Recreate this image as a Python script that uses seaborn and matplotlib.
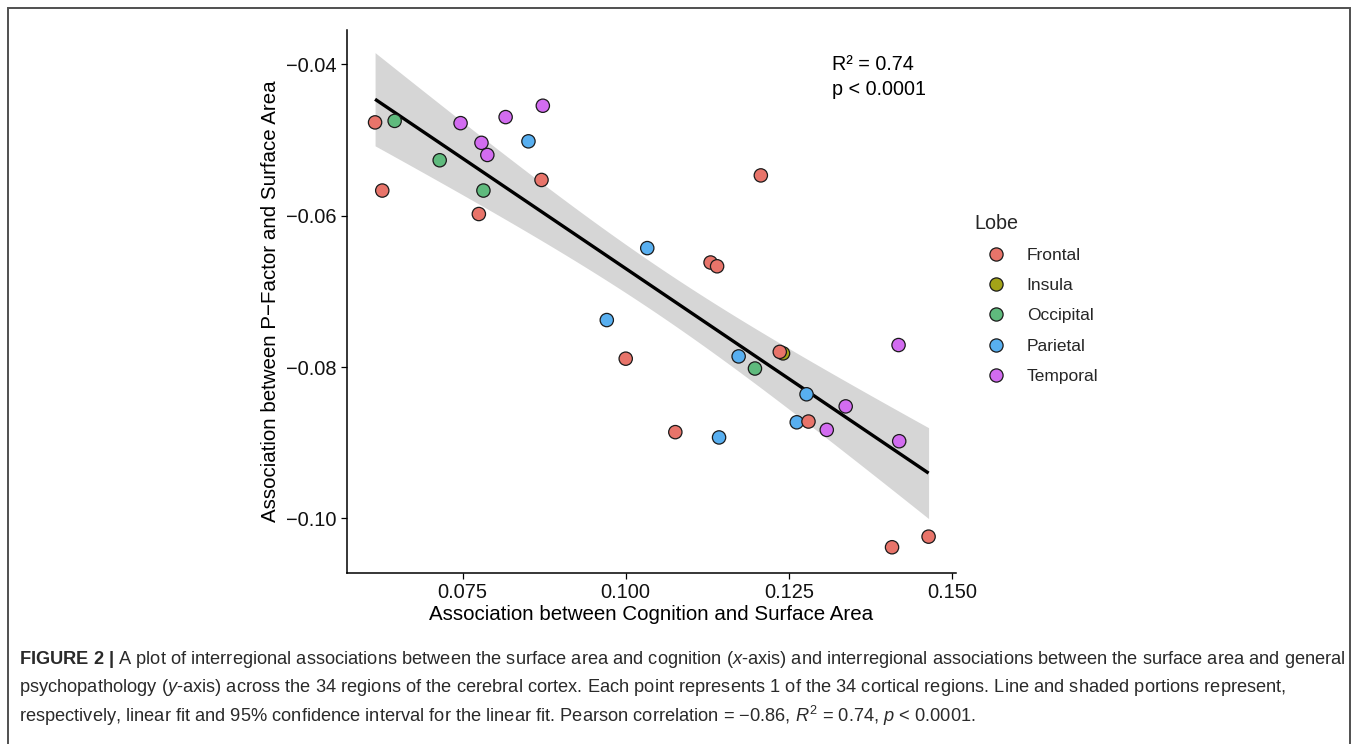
import numpy as np
import pandas as pd
import matplotlib
matplotlib.use("Agg")
import matplotlib.pyplot as plt
import seaborn as sns
from matplotlib.patches import Rectangle

# ---------------- data ----------------
lobe = ["Frontal", "Occipital", "Temporal", "Temporal", "Temporal", "Parietal",
        "Temporal", "Temporal", "Occipital", "Frontal", "Frontal", "Occipital",
        "Frontal", "Frontal", "Parietal", "Frontal", "Frontal", "Parietal",
        "Frontal", "Insula", "Frontal", "Parietal", "Occipital", "Parietal",
        "Parietal", "Frontal", "Frontal", "Parietal", "Temporal", "Temporal",
        "Temporal", "Temporal", "Frontal", "Frontal"]
cognition = [0.0616, 0.0646, 0.0747, 0.0816, 0.0873, 0.0851,
             0.0779, 0.0788, 0.0715, 0.0871, 0.0627, 0.0782,
             0.0775, 0.1207, 0.1033, 0.1130, 0.1140, 0.0971,
             0.1000, 0.1241, 0.1236, 0.1173, 0.1198, 0.1277,
             0.1262, 0.1280, 0.1076, 0.1143, 0.1418, 0.1337,
             0.1308, 0.1419, 0.1464, 0.1408]
pfactor = [-0.0477, -0.0475, -0.0478, -0.0470, -0.0455, -0.0502,
           -0.0504, -0.0520, -0.0527, -0.0553, -0.0567, -0.0567,
           -0.0598, -0.0547, -0.0643, -0.0662, -0.0667, -0.0738,
           -0.0789, -0.0782, -0.0780, -0.0786, -0.0802, -0.0836,
           -0.0873, -0.0872, -0.0886, -0.0893, -0.0771, -0.0852,
           -0.0883, -0.0898, -0.1024, -0.1038]

lobe_order = ["Frontal", "Insula", "Occipital", "Parietal", "Temporal"]
lobe_colors = ["#E8746A", "#A3A318", "#5FBA7D", "#58AFF0", "#D26CF0"]

x_ticks = [0.075, 0.100, 0.125, 0.150]
x_tick_labels = ["0.075", "0.100", "0.125", "0.150"]
y_ticks = [-0.10, -0.08, -0.06, -0.04]
y_tick_labels = ["\u22120.10", "\u22120.08", "\u22120.06", "\u22120.04"]

x_label = "Association between Cognition and Surface Area"
y_label = "Association between P\u2212Factor and Surface Area"
stat_lines = ["R\u00b2 = 0.74", "p < 0.0001"]

caption_lines = [
    r"$\mathbf{FIGURE\ 2\ |}$ A plot of interregional associations between the surface area and cognition ($\mathit{x}$-axis) and interregional associations between the surface area and general",
    r"psychopathology ($\mathit{y}$-axis) across the 34 regions of the cerebral cortex. Each point represents 1 of the 34 cortical regions. Line and shaded portions represent,",
    r"respectively, linear fit and 95% confidence interval for the linear fit. Pearson correlation = $-$0.86, $\mathit{R}^2$ = 0.74, $\mathit{p}$ < 0.0001.",
]

# ---------------- style ----------------
sns.set_theme(style="white")
plt.rcParams["font.family"] = ["Liberation Sans", "DejaVu Sans"]
plt.rcParams["mathtext.fontset"] = "custom"
plt.rcParams["mathtext.rm"] = "Liberation Sans"
plt.rcParams["mathtext.it"] = "Liberation Sans:italic"
plt.rcParams["mathtext.bf"] = "Liberation Sans:bold"
plt.rcParams["mathtext.sf"] = "Liberation Sans"

W, H = 1357, 744
fig = plt.figure(figsize=(W / 100, H / 100), dpi=100)
fig.patch.set_facecolor("white")

L, R, T, B = 347, 956, 30, 573
ax = fig.add_axes([L / W, 1 - B / H, (R - L) / W, (B - T) / H])

df = pd.DataFrame({"lobe": lobe, "cognition": cognition, "pfactor": pfactor})

# analytic 95% confidence band of the linear fit (as geom_smooth(method="lm"))
xv = np.asarray(cognition)
yv = np.asarray(pfactor)
n = len(xv)
slope, intercept = np.polyfit(xv, yv, 1)
resid = yv - (slope * xv + intercept)
s_err = np.sqrt(np.sum(resid ** 2) / (n - 2))
xs = np.linspace(xv.min(), xv.max(), 200)
t_crit = 2.0369  # t(0.975, df=32)
se_fit = s_err * np.sqrt(1 / n + (xs - xv.mean()) ** 2 / np.sum((xv - xv.mean()) ** 2))
ys = slope * xs + intercept
ax.fill_between(xs, ys - t_crit * se_fit, ys + t_crit * se_fit,
                color="#D6D6D6", lw=0, zorder=1)

sns.regplot(data=df, x="cognition", y="pfactor", scatter=False, ci=None,
            color="black", truncate=True,
            line_kws=dict(lw=2.4, solid_capstyle="butt", zorder=2), ax=ax)

sns.scatterplot(data=df, x="cognition", y="pfactor", hue="lobe",
                hue_order=lobe_order, palette=lobe_colors, s=92,
                edgecolor="#1a1a1a", linewidth=0.9, zorder=3, ax=ax)

ax.set_xlim(0.0573, 0.1506)
ax.set_ylim(-0.1072, -0.0355)
ax.set_xticks(x_ticks)
ax.set_xticklabels(x_tick_labels)
ax.set_yticks(y_ticks)
ax.set_yticklabels(y_tick_labels)
ax.tick_params(axis="both", which="major", length=4.5, width=0.9,
               color="black", labelsize=14.4, labelcolor="#111111", pad=3,
               bottom=True, left=True)
for s in ["top", "right"]:
    ax.spines[s].set_visible(False)
for s in ["left", "bottom"]:
    ax.spines[s].set_color("black")
    ax.spines[s].set_linewidth(1.1)

ax.set_xlabel(x_label, fontsize=14.8, color="black", labelpad=2)
ax.set_ylabel(y_label, fontsize=14.8, color="black", labelpad=4)

ax.text(0.1316, -0.0401, stat_lines[0], fontsize=14.2, va="center", ha="left", color="black")
ax.text(0.1316, -0.0433, stat_lines[1], fontsize=14.2, va="center", ha="left", color="black")

sns.move_legend(ax, "upper left", bbox_to_anchor=(966 / W, 1 - 205 / H),
                bbox_transform=fig.transFigure, frameon=False, title="Lobe",
                fontsize=12.5, title_fontsize=14.2, borderpad=0,
                labelspacing=0.87, handlelength=2.5, handletextpad=0.5,
                alignment="left")
leg = ax.get_legend()
for h in leg.legend_handles:
    try:
        h.set_markeredgecolor("#1a1a1a")
        h.set_markeredgewidth(0.9)
        h.set_markersize(9.5)
    except Exception:
        pass

# outer frame
fig.patches.append(Rectangle((8 / W, -0.02), (1350 - 8) / W, 1 - 8 / H + 0.02,
                             transform=fig.transFigure, fill=False,
                             edgecolor="#505050", lw=1.4))

# caption
caps = []
for i, line in enumerate(caption_lines):
    y = [659, 688, 716][i]
    t = fig.text(19 / W, 1 - y / H, line, fontsize=12, va="center", ha="left",
                 color="#2a2a2a")
    caps.append(t)
fig.canvas.draw()
r = fig.canvas.get_renderer()
w1 = caps[0].get_window_extent(r).width
scale = 1321 / w1
for t in caps:
    t.set_fontsize(12 * scale)

fig.savefig("out.png", dpi=100, facecolor="white")
